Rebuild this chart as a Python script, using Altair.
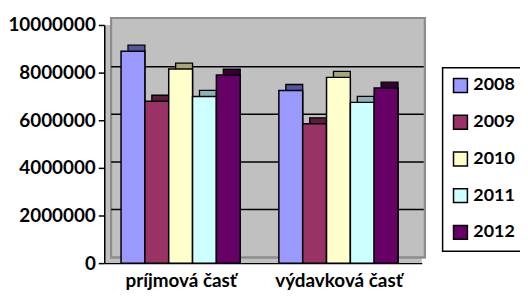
import altair as alt
import pandas as pd

years = ["2008", "2009", "2010", "2011", "2012"]
categories = ["príjmová časť", "výdavková časť"]
prijmova = [8900000, 6800000, 8150000, 7000000, 7900000]
vydavkova = [7250000, 5850000, 7800000, 6750000, 7350000]
colors = ["#9999FF", "#993366", "#FFFFCC", "#CCFFFF", "#660066"]
dark_colors = ["#55559E", "#5A1E3C", "#A6A67A", "#8FB3B3", "#330033"]
tick_values = [0, 2000000, 4000000, 6000000, 8000000, 10000000]
grid_values = [2000000, 4000000, 6000000, 8000000]

BAR = 0.151  # bar width as a fraction of the group step
rows = []
for ci, (cat, vals) in enumerate(zip(categories, [prijmova, vydavkova])):
    for yi, (y, v, d) in enumerate(zip(years, vals, dark_colors)):
        x0 = ci + (yi - 2.5) * BAR
        rows.append({"cat": cat, "year": y, "value": v, "dark": d, "x0": x0, "x1": x0 + BAR})
df = pd.DataFrame(rows)
grid_df = pd.DataFrame({"value": grid_values})

W, H = 320, 240
FONT = "Lato"

label_expr = "datum.value == 0 ? '%s' : '%s'" % (categories[0], categories[1])
x_scale = alt.Scale(domain=[-0.484, 1.528], nice=False, zero=False)
x_axis = alt.Axis(title=None, values=[0, 1], labelExpr=label_expr, labelAngle=0, labelFont=FONT,
                  labelFontWeight="bold", labelFontSize=19, labelColor="black", labelPadding=9,
                  ticks=False, grid=False, domainColor="black", domainWidth=1.5)
y_scale = alt.Scale(domain=[0, 10000000], nice=False)
y_axis = alt.Axis(title=None, values=tick_values, format="d", grid=False,
                  labelFont=FONT, labelFontWeight="bold", labelFontSize=19,
                  labelColor="black", labelPadding=3, tickColor="black",
                  tickSize=6, tickWidth=1.5, domainColor="black", domainWidth=1.5)

wall = alt.Chart(grid_df).mark_rect(fill="#C0C0C0", stroke="#8C8C8C", strokeWidth=2).encode(
    x=alt.value(7), x2=alt.value(W + 3), y=alt.value(-7), y2=alt.value(H - 6))

grid = alt.Chart(grid_df).mark_rule(color="black", strokeWidth=1.5, yOffset=-6).encode(
    x=alt.value(7), x2=alt.value(W + 2),
    y=alt.Y("value:Q", scale=y_scale, axis=y_axis))

back = alt.Chart(df).mark_rect(xOffset=7, yOffset=-6, stroke="black", strokeWidth=1.3).encode(
    x=alt.X("x0:Q", scale=x_scale, axis=x_axis), x2="x1:Q",
    y=alt.Y("value:Q", scale=y_scale, axis=y_axis), y2=alt.datum(0),
    fill=alt.Fill("dark:N", scale=None))

front = alt.Chart(df).mark_rect(stroke="black", strokeWidth=1.5).encode(
    x=alt.X("x0:Q", scale=x_scale, axis=x_axis), x2="x1:Q",
    y=alt.Y("value:Q", scale=y_scale, axis=y_axis), y2=alt.datum(0),
    color=alt.Color("year:N", sort=years, scale=alt.Scale(domain=years, range=colors),
                    legend=alt.Legend(title=None, orient="none", legendX=341, legendY=43,
                                      padding=9, strokeColor="black", fillColor="white",
                                      symbolType="square", symbolSize=196,
                                      symbolStrokeColor="black", symbolStrokeWidth=1.5,
                                      labelFont=FONT, labelFontWeight="bold", labelFontSize=18,
                                      labelColor="black", rowPadding=17, labelOffset=4)))

chart = alt.layer(wall, grid, back, front).properties(
    width=W, height=H,
    autosize=alt.AutoSizeParams(type="none"),
    padding={"left": 97, "top": 16, "right": 99, "bottom": 30},
    background="white",
).configure_view(fill="#C0C0C0", stroke=None).configure_legend(strokeWidth=1.5)

chart.save("out.html", embed_options={"renderer": "svg", "actions": False})
